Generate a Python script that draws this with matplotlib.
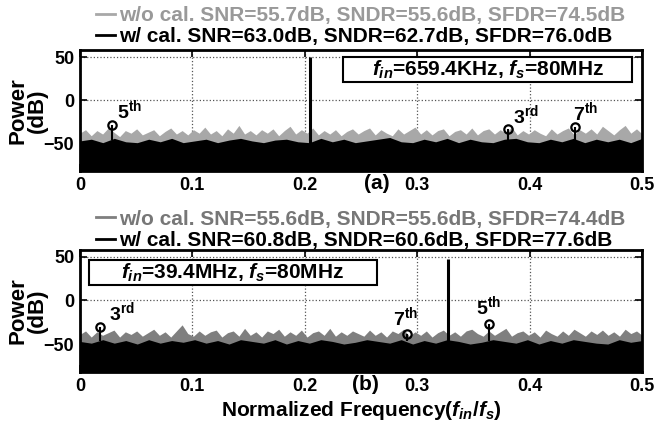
import numpy as np
import matplotlib.pyplot as plt
from matplotlib.lines import Line2D
from matplotlib.patches import Rectangle

plt.rcParams['font.family'] = 'Liberation Sans'
plt.rcParams['font.weight'] = 'bold'
plt.rcParams['mathtext.fontset'] = 'custom'
plt.rcParams['mathtext.rm'] = 'Liberation Sans:bold'
plt.rcParams['mathtext.it'] = 'Liberation Sans:bold:italic'

# ---- panel (a) data, dB ----
a_wo = [-38, -34, -41, -35, -39, -32, -37, -42, -35, -38,
        -33, -40, -37, -34, -41, -36, -32, -39, -35, -40,
        -34, -38, -31, -39, -35, -41, -33, -38, -29, -39,
        -35, -40, -34, -38, -33, -41, -35, -30, -39, -34,
        -38, -32, -40, -35, -39, -34, -41, -36, -33, -39,
        -35, -32, -40, -34, -38, -41, -33, -39, -35, -31,
        -39, -34, -40, -35, -33, -41, -36, -34, -39, -32,
        -40, -35, -33, -39, -34, -38, -31, -40, -35, -39,
        -34, -38, -41, -33, -39, -35, -32, -40, -34, -38,
        -33, -39, -30, -35, -40, -34, -29, -38, -33, -39]
a_w = [-47, -45, -49, -44, -48, -49, -45, -48, -44, -49,
       -47, -45, -49, -46, -44, -47, -49, -46, -45, -48,
       -49, -44, -48, -45, -49, -47, -45, -43, -48, -49,
       -45, -48, -44, -49, -45, -48, -49, -45, -44, -48,
       -49, -45, -48, -44, -49, -45, -48, -45, -49, -44]
a_fund = (0.205, 50)
a_harm_x = [0.029, 0.381, 0.440]
a_harm_y = [-28, -33, -31]
a_harm_lbl = [r'5$^{\mathrm{th}}$', r'3$^{\mathrm{rd}}$', r'7$^{\mathrm{th}}$']
a_leg = ['w/o cal. SNR=55.7dB, SNDR=55.6dB, SFDR=74.5dB',
         'w/ cal. SNR=63.0dB, SNDR=62.7dB, SFDR=76.0dB']
a_box = '$f_{in}$=659.4KHz, $f_s$=80MHz'

# ---- panel (b) data, dB ----
b_wo = [-39, -35, -42, -36, -40, -37, -34, -42, -36, -39,
        -35, -41, -37, -33, -40, -36, -42, -35, -28, -38,
        -41, -35, -40, -36, -34, -42, -37, -35, -41, -32,
        -40, -36, -42, -35, -38, -33, -41, -36, -40, -34,
        -42, -37, -35, -40, -32, -41, -36, -40, -35, -38,
        -41, -34, -40, -36, -42, -35, -38, -33, -41, -36,
        -40, -35, -42, -37, -34, -40, -36, -41, -35, -33,
        -38, -41, -35, -40, -36, -32, -41, -37, -35, -40,
        -36, -42, -34, -38, -41, -35, -40, -33, -37, -41,
        -35, -39, -34, -40, -36, -41, -33, -38, -35, -40]
b_w = [-47, -49, -45, -49, -46, -50, -45, -49, -46, -48,
       -45, -49, -46, -50, -45, -47, -49, -45, -50, -46,
       -49, -45, -47, -50, -48, -45, -47, -49, -45, -50,
       -46, -49, -45, -47, -50, -48, -45, -47, -49, -45,
       -50, -46, -49, -45, -47, -49, -50, -45, -48, -46]
b_fund = (0.327, 48)
b_harm_x = [0.018, 0.291, 0.364]
b_harm_y = [-30, -39, -27]
b_harm_lbl = [r'3$^{\mathrm{rd}}$', r'7$^{\mathrm{th}}$', r'5$^{\mathrm{th}}$']
b_leg = ['w/o cal. SNR=55.6dB, SNDR=55.6dB, SFDR=74.4dB',
         'w/ cal. SNR=60.8dB, SNDR=60.6dB, SFDR=77.6dB']
b_box = '$f_{in}$=39.4MHz, $f_s$=80MHz'

YMIN, YMAX = -82, 58


def panel(ax, wo, w, fund, hx, hy, hlbl, leg, box, boxrect, grey, txtgrey,
          lbl_off, tag, tagx, legy):
    x1 = np.linspace(0, 0.5, len(wo))
    x2 = np.linspace(0, 0.5, len(w))
    ax.grid(True, ls=':', color='#555555', lw=0.9)
    ax.fill_between(x1, YMIN, wo, color=grey, lw=0, zorder=2)
    ax.fill_between(x2, YMIN, w, color='black', lw=0, zorder=3)
    ax.vlines(fund[0], YMIN, fund[1], color='black', lw=2.2, zorder=4)
    ax.vlines(hx, -46, hy, color='black', lw=1.5, zorder=4)
    ax.plot(hx, hy, 'o', ms=6, mfc='none', mec='black', mew=1.6, zorder=5)
    for xx, yy, t, off in zip(hx, hy, hlbl, lbl_off):
        ax.annotate(t, (xx, yy), xytext=off, textcoords='offset points',
                    fontsize=14, fontweight='bold', ha='left', va='bottom')
    ax.set_xlim(0, 0.5)
    ax.set_ylim(YMIN, YMAX)
    ax.set_xticks([0, 0.1, 0.2, 0.3, 0.4, 0.5])
    ax.set_xticklabels(['0', '0.1', '0.2', '0.3', '0.4', '0.5'])
    ax.set_yticks([-50, 0, 50])
    ax.tick_params(direction='in', top=True, right=True, length=5, width=1.2,
                   labelsize=13, pad=4)
    for s in ax.spines.values():
        s.set_linewidth(2)
    ax.set_ylabel('Power\n(dB)', fontsize=16, fontweight='bold', labelpad=-3,
                  linespacing=0.9)
    x0, y0, x1b, y1b = boxrect
    ax.add_patch(Rectangle((x0, y0), x1b - x0, y1b - y0, transform=ax.transAxes,
                           fc='white', ec='black', lw=1.5, zorder=6))
    ax.text((x0 + x1b) / 2, (y0 + y1b) / 2, box, transform=ax.transAxes,
            fontsize=15, fontweight='bold', ha='center', va='center', zorder=7)
    handles = [Line2D([], [], color=grey, lw=2), Line2D([], [], color='black', lw=2)]
    ax.legend(handles, leg, loc='lower center', bbox_to_anchor=(0.5, legy),
              frameon=False, handlelength=0.9, handletextpad=0.2,
              labelspacing=0.1, borderpad=0,
              labelcolor=[txtgrey, 'black'], prop={'weight': 'bold', 'size': 15})
    ax.text(tagx, -0.025, tag, transform=ax.transAxes, fontsize=15,
            fontweight='bold', ha='center', va='top')


fig = plt.figure(figsize=(6.6, 4.3), dpi=100)
ax1 = fig.add_axes([0.121, 0.602, 0.852, 0.281])
ax2 = fig.add_axes([0.121, 0.135, 0.852, 0.284])

panel(ax1, a_wo, a_w, a_fund, a_harm_x, a_harm_y, a_harm_lbl, a_leg, a_box,
      (0.468, 0.736, 0.982, 0.942), '#a8a8a8', '#999999',
      [(3, 2), (3, 1.5), (-1, 2)], '(a)', 0.528, 0.95)
panel(ax2, b_wo, b_w, b_fund, b_harm_x, b_harm_y, b_harm_lbl, b_leg, b_box,
      (0.016, 0.713, 0.528, 0.918), '#7f7f7f', '#777777',
      [(6.5, 2), (-10, 4), (-9.5, 4)], '(b)', 0.508, 0.915)

ax2.set_xlabel('Normalized Frequency($f_{in}$/$f_s$)', fontsize=15,
               fontweight='bold', labelpad=3)

fig.savefig('out.png', dpi=100)
